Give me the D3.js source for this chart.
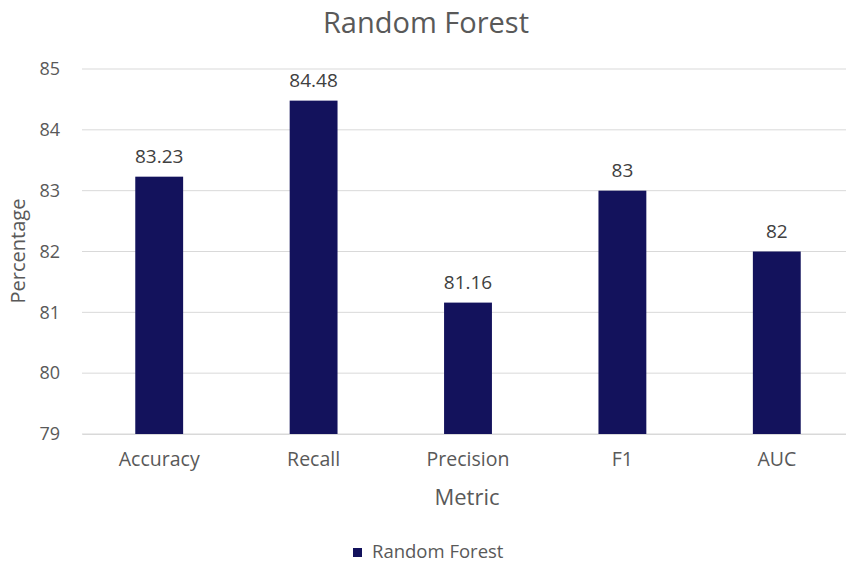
<!DOCTYPE html>
<html>
<head>
<meta charset="utf-8">
<script src="https://cdn.jsdelivr.net/npm/d3@7"></script>
<style>
  body { margin: 0; background: #fff; }
  text { font-family: "Open Sans", Lato, sans-serif; }
</style>
</head>
<body>
<svg id="chart" width="846" height="564"></svg>
<script>
var categories = ['Accuracy', 'Recall', 'Precision', 'F1', 'AUC'];
var values = [83.23, 84.48, 81.16, 83, 82];
var valueLabels = ['83.23', '84.48', '81.16', '83', '82'];
var yTicks = [79, 80, 81, 82, 83, 84, 85];
var seriesName = 'Random Forest';

var svg = d3.select('#chart');
var plot = { left: 82, right: 854, top: 69, bottom: 434 };
var barColor = '#13125c';
var textColor = '#595959';

var x = d3.scaleBand()
    .domain(categories)
    .range([plot.left, plot.right])
    .paddingInner(0.69)
    .paddingOuter(0.345);

var y = d3.scaleLinear()
    .domain([79, 85])
    .range([plot.bottom, plot.top]);

// gridlines
svg.append('g')
    .selectAll('line')
    .data(yTicks)
    .enter().append('line')
    .attr('x1', plot.left)
    .attr('x2', plot.right)
    .attr('y1', function (d) { return y(d); })
    .attr('y2', function (d) { return y(d); })
    .attr('stroke', '#d9d9d9')
    .attr('stroke-width', 1);

// y axis labels
var yAxis = d3.axisLeft(y).tickValues(yTicks).tickFormat(d3.format('d')).tickSize(0).tickPadding(22);
var yg = svg.append('g')
    .attr('transform', 'translate(' + plot.left + ',0)')
    .call(yAxis);
yg.select('.domain').remove();
yg.selectAll('text')
    .attr('fill', textColor)
    .style('font-size', '18px');

// x axis labels
var xAxis = d3.axisBottom(x).tickSize(0).tickPadding(18);
var xg = svg.append('g')
    .attr('transform', 'translate(0,' + plot.bottom + ')')
    .call(xAxis);
xg.select('.domain')
    .attr('stroke', '#d9d9d9');
xg.selectAll('text')
    .attr('fill', textColor)
    .style('font-size', '19.5px');

// bars
svg.append('g')
    .selectAll('rect')
    .data(values)
    .enter().append('rect')
    .attr('x', function (d, i) { return x(categories[i]); })
    .attr('y', function (d) { return y(d); })
    .attr('width', x.bandwidth())
    .attr('height', function (d) { return y(79) - y(d); })
    .attr('fill', barColor);

// data labels
svg.append('g')
    .selectAll('text')
    .data(values)
    .enter().append('text')
    .attr('x', function (d, i) { return x(categories[i]) + x.bandwidth() / 2; })
    .attr('y', function (d) { return y(d) - 14; })
    .attr('text-anchor', 'middle')
    .attr('fill', '#404040')
    .style('font-size', '19px')
    .text(function (d, i) { return valueLabels[i]; });

// title
svg.append('text')
    .attr('x', 426)
    .attr('y', 33)
    .attr('text-anchor', 'middle')
    .attr('fill', textColor)
    .style('font-size', '29px')
    .text(seriesName);

// axis titles
svg.append('text')
    .attr('x', 467)
    .attr('y', 505)
    .attr('text-anchor', 'middle')
    .attr('fill', textColor)
    .style('font-size', '22px')
    .text('Metric');

svg.append('text')
    .attr('transform', 'translate(25,251) rotate(-90)')
    .attr('text-anchor', 'middle')
    .attr('fill', textColor)
    .style('font-size', '20px')
    .text('Percentage');

// legend
var legend = svg.append('g').attr('transform', 'translate(353,558)');
legend.append('rect')
    .attr('x', 0)
    .attr('y', -10)
    .attr('width', 9)
    .attr('height', 9)
    .attr('fill', barColor);
legend.append('text')
    .attr('x', 19)
    .attr('y', 0)
    .attr('fill', textColor)
    .style('font-size', '18.5px')
    .text(seriesName);
</script>
</body>
</html>
